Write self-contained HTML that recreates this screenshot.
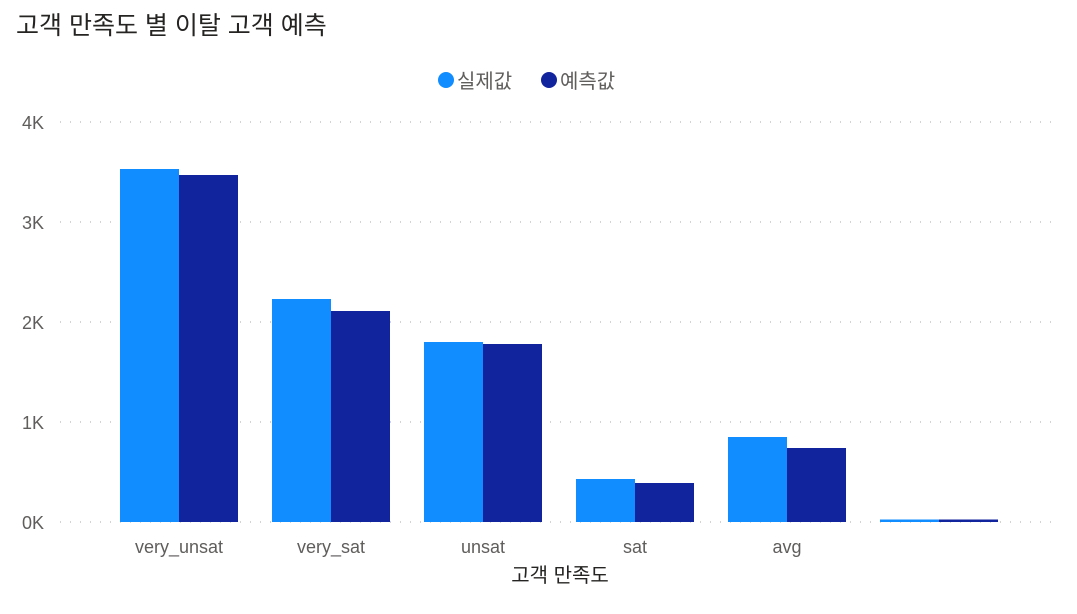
<!DOCTYPE html>
<html><head><meta charset="utf-8"><style>
body{margin:0;width:1077px;height:609px;background:#fff;overflow:hidden;font-family:"Liberation Sans","Noto Sans CJK KR",sans-serif;}
</style></head><body>
<svg id="chart" width="1077" height="609" xmlns="http://www.w3.org/2000/svg">
<text x="16" y="34" font-size="25" fill="#252423" font-family="Liberation Sans, Noto Sans CJK KR, sans-serif">고객 만족도 별 이탈 고객 예측</text>
<g>
<g><circle cx="446" cy="80" r="8" fill="#118DFF"/><text x="457" y="88" font-size="20" fill="#605E5C" font-family="Liberation Sans, Noto Sans CJK KR, sans-serif">실제값</text></g>
<g><circle cx="549" cy="80" r="8" fill="#12239E"/><text x="560" y="88" font-size="20" fill="#605E5C" font-family="Liberation Sans, Noto Sans CJK KR, sans-serif">예측값</text></g>
</g>
<g id="grid"></g><g id="bars"></g><g id="xlabels"></g>
<text x="560" y="582" text-anchor="middle" font-size="20" fill="#252423" font-family="Liberation Sans, Noto Sans CJK KR, sans-serif">고객 만족도</text>
</svg>
<script>
const categories=["very_unsat","very_sat","unsat","sat","avg",""];
const actual=[3530,2230,1800,430,850,25];
const predicted=[3470,2110,1780,390,740,25];
const ticks=[0,1000,2000,3000,4000];
const tickLabels=["0K","1K","2K","3K","4K"];
const NS="http://www.w3.org/2000/svg";
const y0=522,pxPer=0.1;
const y=v=>y0-v*pxPer;
const x=i=>120+i*152;
const bw=59;
function mk(t,a,p){const e=document.createElementNS(NS,t);for(const k in a)e.setAttribute(k,a[k]);p.appendChild(e);return e;}
const g=document.getElementById('grid');
ticks.forEach((t,i)=>{
 const l=mk('line',{x1:60,x2:1060,y1:y(t),y2:y(t),stroke:'#c8c6c4','stroke-dasharray':'1 9','stroke-width':1.5},g);
 
 
 const tx=mk('text',{x:44,y:y(t)+7,'text-anchor':'end','font-size':18,fill:'#605E5C','font-family':'Liberation Sans, sans-serif'},g);
 tx.textContent=tickLabels[i];
 
 
});
const b=document.getElementById('bars'),xl=document.getElementById('xlabels');
categories.forEach((c,i)=>{
 const r1=mk('rect',{x:x(i),y:y(actual[i]),width:bw,height:actual[i]*pxPer,fill:'#118DFF'},b);
 
 
 const r2=mk('rect',{x:x(i)+bw,y:y(predicted[i]),width:bw,height:predicted[i]*pxPer,fill:'#12239E'},b);
 
 
 const t=mk('text',{x:x(i)+bw,y:553,'text-anchor':'middle','font-size':18,fill:'#605E5C','font-family':'Liberation Sans, sans-serif'},xl);
 t.textContent=c;
 
 
});
</script>
</body></html>
